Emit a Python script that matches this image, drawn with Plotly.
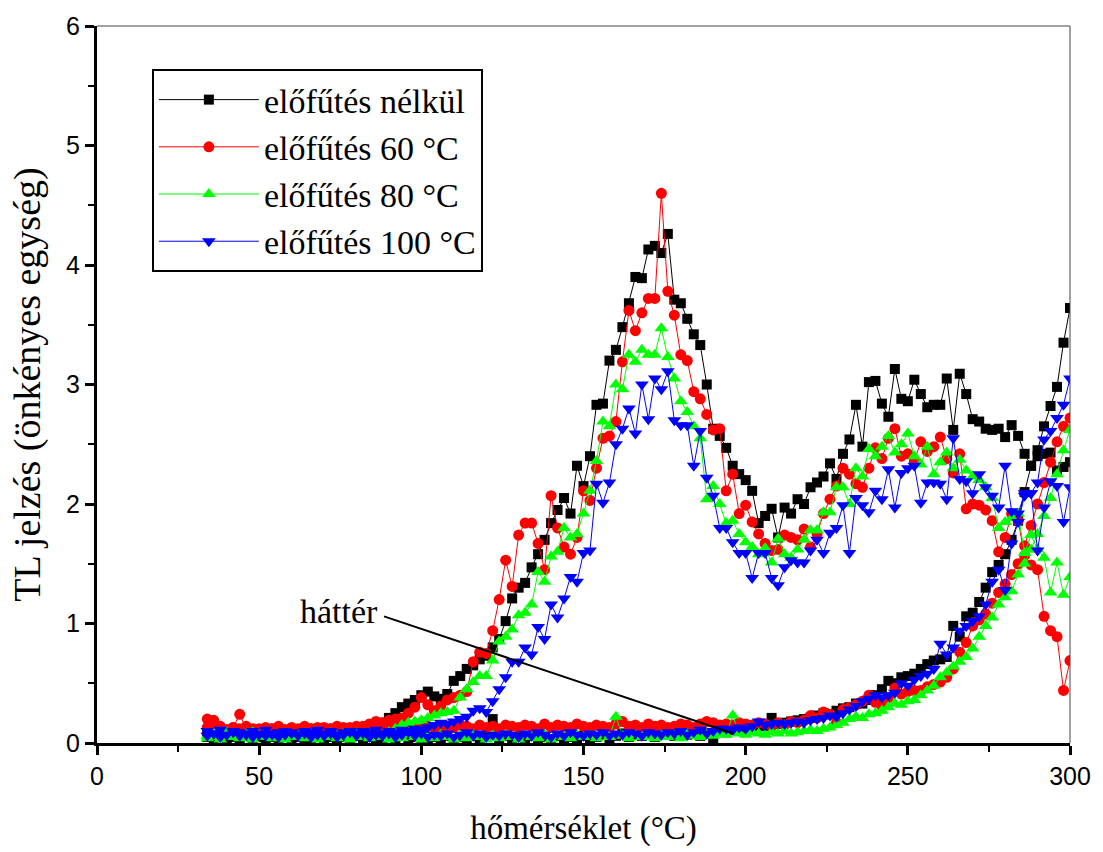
import plotly.graph_objects as go

# Temperature grid (°C), 2 °C step from 34 to 300
temperature = list(range(34, 301, 2))

# TL signal (arbitrary units) for the different preheat treatments
no_preheat = [
    0.08, 0.07, 0.09, 0.06, 0.08, 0.07, 0.09, 0.06, 0.08, 0.07,
    0.09, 0.08, 0.07, 0.09, 0.08, 0.07, 0.09, 0.10, 0.08, 0.09,
    0.08, 0.10, 0.09, 0.11, 0.10, 0.12, 0.13, 0.17, 0.21, 0.25,
    0.30, 0.33, 0.36, 0.40, 0.43, 0.39, 0.37, 0.41, 0.52, 0.56,
    0.62, 0.65, 0.70, 0.73, 0.80, 0.87, 1.02, 1.21, 1.30, 1.34,
    1.47, 1.58, 1.70, 1.84, 1.95, 2.05, 1.92, 2.32, 2.15, 2.40,
    2.83, 2.84, 3.20, 3.29, 3.48, 3.68, 3.90, 3.89, 4.13, 4.16,
    4.10, 4.26, 3.71, 3.68, 3.55, 3.42, 3.33, 3.00, 2.63, 2.57,
    2.47, 2.32, 2.25, 2.20, 2.11, 1.84, 1.90, 1.96, 1.72, 1.97,
    1.92, 2.04, 2.00, 2.14, 2.18, 2.23, 2.34, 2.21, 2.42, 2.54,
    2.83, 2.48, 3.02, 3.03, 2.84, 2.73, 3.13, 2.88, 2.86, 3.04,
    2.92, 2.81, 2.83, 2.83, 3.05, 2.62, 3.09, 2.92, 2.71, 2.69,
    2.63, 2.62, 2.63, 2.56, 2.66, 2.57, 2.42, 2.32, 2.40, 2.42,
    2.43, 2.28, 2.31, 2.35,
]
preheat_60 = [
    0.20, 0.19, 0.12, 0.11, 0.13, 0.24, 0.12, 0.11, 0.12, 0.10,
    0.12, 0.13, 0.11, 0.12, 0.10, 0.11, 0.12, 0.11, 0.13, 0.12,
    0.11, 0.13, 0.12, 0.14, 0.13, 0.16, 0.18, 0.17, 0.19, 0.20,
    0.21, 0.25, 0.30, 0.38, 0.32, 0.27, 0.31, 0.36, 0.38, 0.40,
    0.43, 0.68, 0.76, 0.75, 0.94, 1.20, 1.53, 1.31, 1.74, 1.84,
    1.84, 1.67, 1.45, 2.07, 1.80, 1.64, 1.58, 1.72, 2.11, 2.03,
    2.30, 2.55, 2.57, 2.69, 3.19, 3.62, 3.45, 3.60, 3.72, 3.72,
    4.60, 3.78, 3.58, 3.25, 3.20, 2.94, 2.88, 2.75, 2.62, 2.63,
    2.11, 2.25, 1.92, 1.99, 1.85, 1.75, 1.67, 1.61, 1.62, 1.74,
    1.72, 1.70, 1.79, 1.64, 1.75, 1.92, 2.04, 2.15, 2.30, 2.25,
    2.17, 2.14, 2.30, 2.47, 2.38, 2.55, 2.63, 2.40, 2.42, 2.36,
    2.52, 2.44, 2.48, 2.56, 2.38, 2.26, 2.42, 1.96, 2.00, 1.99,
    1.95, 1.86, 1.60, 1.72, 1.92, 1.86, 1.57, 1.49, 1.45, 1.06,
    0.94, 0.89, 0.44, 0.69,
]
preheat_80 = [
    0.06, 0.08, 0.05, 0.09, 0.06, 0.07, 0.05, 0.09, 0.06, 0.08,
    0.05, 0.07, 0.08, 0.06, 0.05, 0.08, 0.06, 0.07, 0.05, 0.08,
    0.06, 0.07, 0.05, 0.08, 0.06, 0.07, 0.05, 0.06, 0.09, 0.12,
    0.15, 0.17, 0.18, 0.19, 0.21, 0.23, 0.25, 0.26, 0.27, 0.38,
    0.45, 0.51, 0.56, 0.56, 0.69, 0.85, 0.89, 0.95, 1.07, 1.09,
    1.16, 1.43, 1.35, 1.56, 1.60, 1.80, 1.72, 1.75, 1.92, 2.11,
    2.36, 2.69, 2.65, 3.00, 2.96, 3.25, 3.19, 3.29, 3.25, 3.25,
    3.47, 3.23, 3.05, 2.86, 2.77, 2.65, 2.55, 2.04, 2.15, 2.00,
    1.84, 1.86, 1.75, 1.68, 1.64, 1.58, 1.63, 1.51, 1.71, 1.58,
    1.55, 1.62, 1.70, 1.78, 1.78, 1.93, 1.93, 2.14, 2.14, 2.00,
    2.30, 2.23, 2.46, 2.40, 2.48, 2.57, 2.43, 2.50, 2.59, 2.40,
    2.33, 2.48, 2.25, 2.35, 2.43, 2.30, 2.37, 2.28, 2.23, 2.20,
    2.14, 2.05, 1.80, 1.85, 1.88, 1.92, 1.59, 1.74, 1.62, 1.55,
    1.26, 1.51, 1.24, 1.39,
]
preheat_100 = [
    0.10, 0.08, 0.11, 0.07, 0.10, 0.09, 0.07, 0.10, 0.08, 0.11,
    0.07, 0.09, 0.10, 0.08, 0.07, 0.10, 0.09, 0.11, 0.08, 0.10,
    0.07, 0.09, 0.10, 0.08, 0.10, 0.09, 0.11, 0.08, 0.10, 0.09,
    0.11, 0.10, 0.12, 0.11, 0.13, 0.15, 0.17, 0.16, 0.18, 0.20,
    0.22, 0.27, 0.29, 0.26, 0.35, 0.45, 0.55, 0.68, 0.68, 0.80,
    0.74, 0.97, 0.87, 1.16, 1.05, 1.21, 1.39, 1.35, 1.59, 1.61,
    2.17, 2.01, 2.18, 2.50, 2.63, 2.80, 2.59, 3.00, 2.71, 3.05,
    2.96, 3.11, 2.70, 2.66, 2.66, 2.32, 2.61, 2.22, 2.07, 1.80,
    1.80, 1.68, 1.59, 1.59, 1.38, 1.59, 1.59, 1.38, 1.32, 1.47,
    1.53, 1.51, 1.51, 1.61, 1.70, 1.59, 1.76, 1.80, 1.99, 1.59,
    2.05, 1.99, 1.93, 2.11, 2.04, 2.29, 1.97, 2.26, 2.30, 2.32,
    2.01, 2.18, 2.18, 2.17, 2.04, 2.55, 2.21, 2.19, 2.09, 2.25,
    2.14, 2.07, 1.97, 2.32, 1.94, 1.92, 2.09, 2.09, 1.61, 1.97,
    2.19, 2.15, 1.85, 2.14,
]

# Background (empty reader) measurements belonging to each treatment
bg_no_preheat = [
    0.05, 0.04, 0.06, 0.03, 0.05, 0.04, 0.06, 0.03, 0.05, 0.04,
    0.05, 0.03, 0.06, 0.04, 0.05, 0.03, 0.04, 0.06, 0.04, 0.05,
    0.03, 0.05, 0.04, 0.06, 0.03, 0.05, 0.04, 0.03, 0.05, 0.04,
    0.06, 0.03, 0.05, 0.04, 0.03, 0.05, 0.04, 0.06, 0.03, 0.05,
    0.04, 0.06, 0.03, 0.05, 0.20, 0.04, 0.06, 0.03, 0.05, 0.04,
    0.06, 0.04, 0.05, 0.03, 0.06, 0.04, 0.05, 0.03, 0.06, 0.04,
    0.05, 0.07, 0.04, 0.06, 0.08, 0.05, 0.07, 0.06, 0.08, 0.05,
    0.07, 0.09, 0.06, 0.08, 0.07, 0.09, 0.06, 0.08, 0.04, 0.10,
    0.09, 0.11, 0.12, 0.13, 0.12, 0.15, 0.14, 0.21, 0.16, 0.17,
    0.18, 0.19, 0.20, 0.21, 0.23, 0.25, 0.24, 0.27, 0.29, 0.30,
    0.33, 0.33, 0.36, 0.40, 0.45, 0.52, 0.50, 0.55, 0.56, 0.58,
    0.62, 0.66, 0.69, 0.70, 0.72, 0.98, 0.89, 1.06, 1.09, 1.18,
    1.30, 1.43, 1.49, 1.58, 1.70, 1.86, 2.10, 2.32, 2.45, 2.65,
    2.82, 2.98, 3.35, 3.64,
]
bg_preheat_60 = [
    0.13, 0.12, 0.14, 0.11, 0.13, 0.12, 0.14, 0.12, 0.11, 0.13,
    0.12, 0.14, 0.11, 0.13, 0.12, 0.14, 0.12, 0.13, 0.11, 0.12,
    0.14, 0.12, 0.13, 0.11, 0.14, 0.13, 0.12, 0.14, 0.13, 0.12,
    0.14, 0.13, 0.15, 0.12, 0.14, 0.13, 0.12, 0.14, 0.13, 0.15,
    0.14, 0.12, 0.15, 0.13, 0.14, 0.12, 0.15, 0.14, 0.13, 0.15,
    0.14, 0.12, 0.16, 0.13, 0.15, 0.14, 0.13, 0.16, 0.14, 0.13,
    0.15, 0.14, 0.13, 0.16, 0.18, 0.14, 0.15, 0.13, 0.16, 0.14,
    0.15, 0.13, 0.14, 0.16, 0.15, 0.13, 0.16, 0.18, 0.17, 0.15,
    0.16, 0.15, 0.17, 0.16, 0.15, 0.17, 0.16, 0.14, 0.17, 0.15,
    0.18, 0.17, 0.19, 0.23, 0.21, 0.26, 0.24, 0.17, 0.28, 0.30,
    0.32, 0.35, 0.40, 0.34, 0.31, 0.38, 0.46, 0.41, 0.43, 0.44,
    0.44, 0.47, 0.49, 0.51, 0.55, 0.62, 0.76, 0.84, 0.98, 1.03,
    1.08, 1.17, 1.26, 1.33, 1.41, 1.50, 1.65, 1.82, 2.00, 2.18,
    2.35, 2.52, 2.65, 2.72,
]
bg_preheat_80 = [
    0.04, 0.06, 0.03, 0.07, 0.05, 0.04, 0.08, 0.03, 0.06, 0.05,
    0.04, 0.07, 0.03, 0.05, 0.06, 0.04, 0.07, 0.03, 0.05, 0.06,
    0.04, 0.08, 0.03, 0.05, 0.06, 0.04, 0.07, 0.05, 0.03, 0.06,
    0.04, 0.07, 0.05, 0.03, 0.06, 0.04, 0.07, 0.05, 0.03, 0.06,
    0.04, 0.07, 0.05, 0.03, 0.06, 0.04, 0.07, 0.05, 0.03, 0.06,
    0.05, 0.04, 0.07, 0.03, 0.06, 0.05, 0.04, 0.07, 0.05, 0.06,
    0.04, 0.07, 0.05, 0.22, 0.06, 0.04, 0.07, 0.05, 0.06, 0.04,
    0.07, 0.05, 0.06, 0.04, 0.08, 0.06, 0.05, 0.07, 0.06, 0.08,
    0.07, 0.23, 0.08, 0.07, 0.09, 0.08, 0.07, 0.09, 0.08, 0.10,
    0.08, 0.09, 0.10, 0.11, 0.10, 0.12, 0.13, 0.15, 0.17, 0.20,
    0.22, 0.21, 0.24, 0.25, 0.27, 0.30, 0.33, 0.32, 0.35, 0.36,
    0.40, 0.44, 0.48, 0.55, 0.59, 0.64, 0.68, 0.72, 0.79, 0.89,
    0.98, 1.05, 1.16, 1.22, 1.27, 1.41, 1.50, 1.62, 1.75, 1.90,
    2.05, 2.25, 2.45, 2.62,
]
bg_preheat_100 = [
    0.06, 0.08, 0.05, 0.07, 0.09, 0.06, 0.08, 0.05, 0.07, 0.06,
    0.08, 0.05, 0.07, 0.09, 0.06, 0.08, 0.05, 0.07, 0.06, 0.08,
    0.05, 0.07, 0.09, 0.06, 0.08, 0.05, 0.07, 0.06, 0.08, 0.05,
    0.07, 0.09, 0.06, 0.08, 0.05, 0.07, 0.06, 0.08, 0.05, 0.07,
    0.09, 0.06, 0.08, 0.05, 0.07, 0.06, 0.08, 0.07, 0.05, 0.08,
    0.06, 0.09, 0.07, 0.05, 0.08, 0.06, 0.09, 0.07, 0.06, 0.08,
    0.07, 0.09, 0.06, 0.08, 0.07, 0.09, 0.08, 0.06, 0.09, 0.08,
    0.07, 0.09, 0.08, 0.10, 0.07, 0.09, 0.11, 0.08, 0.10, 0.12,
    0.12, 0.11, 0.13, 0.12, 0.14, 0.18, 0.15, 0.16, 0.17, 0.16,
    0.17, 0.18, 0.17, 0.19, 0.20, 0.21, 0.23, 0.22, 0.25, 0.28,
    0.31, 0.35, 0.37, 0.40, 0.38, 0.40, 0.42, 0.50, 0.48, 0.53,
    0.56, 0.58, 0.62, 0.83, 0.74, 0.80, 0.94, 0.98, 1.02, 1.06,
    1.16, 1.35, 1.45, 1.28, 1.67, 1.85, 2.07, 2.09, 2.18, 2.54,
    2.61, 2.72, 2.83, 3.05,
]

legend_names = ["előfűtés nélkül", "előfűtés 60 °C", "előfűtés 80 °C", "előfűtés 100 °C"]
colors = ["#000000", "#ff0000", "#00ff00", "#0000ff"]
symbols = ["square", "circle", "triangle-up", "triangle-down"]
sizes = [10, 11, 12, 12]

signals = [no_preheat, preheat_60, preheat_80, preheat_100]
backgrounds = [bg_no_preheat, bg_preheat_60, bg_preheat_80, bg_preheat_100]

SERIF = "Liberation Serif, Times New Roman, serif"
SANS = "Liberation Sans, Arial, sans-serif"

fig = go.Figure()
for name, col, sym, sz, sig, bg in zip(legend_names, colors, symbols, sizes, signals, backgrounds):
    fig.add_trace(go.Scatter(
        x=temperature, y=sig, name=name, mode="lines+markers",
        line=dict(color=col, width=1),
        marker=dict(color=col, symbol=sym, size=sz, line=dict(width=0)),
    ))
    fig.add_trace(go.Scatter(
        x=temperature, y=bg, name=name + " (háttér)", mode="lines+markers",
        showlegend=False,
        line=dict(color=col, width=1),
        marker=dict(color=col, symbol=sym, size=sz, line=dict(width=0)),
    ))

# thin frame on the top and right edges
fig.add_shape(type="line", xref="paper", yref="paper", x0=0, y0=1, x1=1, y1=1,
              line=dict(color="#444444", width=1))
fig.add_shape(type="line", xref="paper", yref="paper", x0=1, y0=0, x1=1, y1=1,
              line=dict(color="#444444", width=1))

# pointer from the label to the background curves
fig.add_shape(type="line", xref="x", yref="y", x0=88.5, y0=1.06, x1=196.1, y1=0.08,
              line=dict(color="black", width=2))
fig.add_annotation(x=74.7, y=1.10, xref="x", yref="y", text="háttér", showarrow=False,
                   font=dict(family=SERIF, size=34, color="black"))

fig.update_layout(
    width=1103, height=852,
    paper_bgcolor="white", plot_bgcolor="white",
    margin=dict(l=97, r=30, t=20, b=107),
    showlegend=True,
    legend=dict(
        x=0.0564, y=0.94, xanchor="left", yanchor="top",
        bordercolor="black", borderwidth=2, bgcolor="white",
        font=dict(family=SERIF, size=34, color="black"),
        itemwidth=100, tracegroupgap=0,
    ),
    xaxis=dict(
        range=[0, 300], dtick=50, tick0=0,
        showline=True, linewidth=3, linecolor="black", mirror=False,
        showgrid=False, zeroline=False,
        ticks="outside", ticklen=9, tickwidth=2.5, tickcolor="black",
        minor=dict(ticks="outside", ticklen=6, tickwidth=2, tickcolor="black", dtick=25, tick0=0, showgrid=False),
        tickfont=dict(family=SANS, size=25, color="black"),
        title=dict(text="hőmérséklet (°C)", font=dict(family=SERIF, size=33, color="black"), standoff=27),
    ),
    yaxis=dict(
        range=[0, 6], dtick=1, tick0=0,
        showline=True, linewidth=3, linecolor="black", mirror=False,
        showgrid=False, zeroline=False,
        ticks="outside", ticklen=9, tickwidth=2.5, tickcolor="black",
        minor=dict(ticks="outside", ticklen=6, tickwidth=2, tickcolor="black", dtick=0.5, tick0=0, showgrid=False),
        tickfont=dict(family=SANS, size=25, color="black"),
        title=dict(text="TL jelzés (önkényes egység)", font=dict(family=SERIF, size=38, color="black"), standoff=14),
    ),
)

fig.write_html("out.html")
